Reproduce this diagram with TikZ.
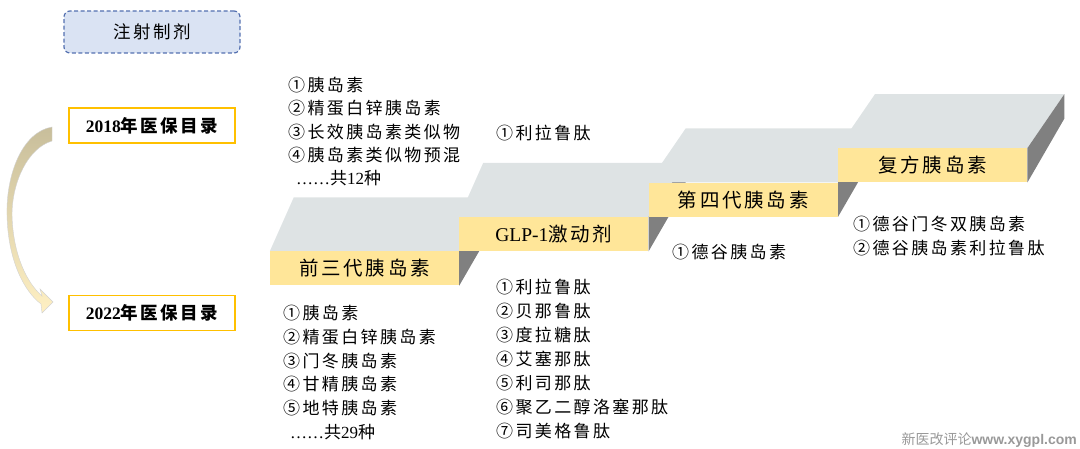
\documentclass[tikz,border=0pt]{standalone}
\usepackage{fontspec}
\setmainfont{Liberation Serif}
\newfontfamily\cjk[LetterSpace=14]{Noto Sans CJK SC}
\newfontfamily\cjkplain{Noto Sans CJK SC}
\newfontfamily\wmfont{Liberation Sans}
\usetikzlibrary{positioning,calc,backgrounds}
\definecolor{stepyellow}{RGB}{255,230,153}
\definecolor{stepgray}{RGB}{222,227,228}
\definecolor{stepdark}{RGB}{128,128,128}
\definecolor{titleblue}{RGB}{218,227,243}
\definecolor{titleedge}{RGB}{84,112,176}
\definecolor{yeargold}{RGB}{255,192,0}
\definecolor{arrtop}{RGB}{200,190,155}
\definecolor{arrmid}{RGB}{216,214,200}
\definecolor{arrbot}{RGB}{255,240,195}
\tikzset{
  stepbox/.style={fill=stepyellow, minimum width=189pt, minimum height=34pt, inner sep=0pt, font=\cjk\fontsize{19.5}{22}\selectfont},
  yearbox/.style={draw=yeargold, line width=1.2pt, fill=white, minimum width=166pt, minimum height=35pt, font=\cjk\bfseries\fontsize{17.5}{20}\selectfont},
  listtext/.style={align=left, inner sep=0pt, anchor=north west, font=\cjk\fontsize{17}{24}\selectfont},
  topface/.style={fill=stepgray},
  sideface/.style={fill=stepdark}
}
\begin{document}
\begin{tikzpicture}[x=1pt,y=-1pt]
\useasboundingbox (0,0) rectangle (1080,449);
\node[draw=titleedge, dash pattern=on 4pt off 2.5pt, line width=1.2pt, rounded corners=6pt, fill=titleblue,
  minimum width=176pt, minimum height=42pt, font=\cjk\fontsize{17.5}{20}\selectfont] (title) at (152,32) {注射制剂};
\node[yearbox] (y18) at (152,125.5) {{\rmfamily 2018}年医保目录};
\node[yearbox, below=151pt of y18] (y22) {{\rmfamily 2022}年医保目录};
\shade[top color=arrtop, middle color=arrmid, bottom color=arrbot, draw=gray!35, line width=0.4pt]
  (52,127) .. controls (22,132) and (6,175) .. (7,215) .. controls (8,262) and (25,292) .. (41,304)
  -- (42,313) -- (53,302) -- (40,289) -- (42,296)
  .. controls (27,283) and (13,255) .. (12,215) .. controls (12,182) and (28,148) .. (52,141) -- cycle;
\node[stepbox] (s1) at (364.5,268.5) {前三代胰岛素};
\node[stepbox, anchor=south west] (s2) at (s1.north east) {{\rmfamily GLP-1}激动剂};
\node[stepbox, anchor=south west] (s3) at (s2.north east) {第四代胰岛素};
\node[stepbox, anchor=south west] (s4) at (s3.north east) {复方胰岛素};
\begin{scope}[on background layer]
\foreach \s/\d in {s1/24,s2/24,s3/37,s4/37}{
  \fill[topface] (\s.north west) -- (\s.north east) -- ++(37,-54) -- ($(\s.north west)+(\d,-54)$) -- cycle;
  \fill[sideface] (\s.north east) -- (\s.south east) -- ++(37,-64) -- ($(\s.north east)+(37,-54)$) -- cycle;
}
\end{scope}
\node[listtext, font=\cjk\fontsize{17}{23.3}\selectfont] (l18a) at (288,77)
  {①胰岛素\\②精蛋白锌胰岛素\\③长效胰岛素类似物\\④胰岛素类似物预混\\\hspace{8pt}{\rmfamily ……}共{\rmfamily 12}种};
\node[listtext] (l18b) at (496,125) {①利拉鲁肽};
\node[listtext, font=\cjk\fontsize{17}{23.8}\selectfont] (l22a) at (283,305)
  {①胰岛素\\②精蛋白锌胰岛素\\③门冬胰岛素\\④甘精胰岛素\\⑤地特胰岛素\\\hspace{7pt}{\rmfamily ……}共{\rmfamily 29}种};
\node[listtext] (l22b) at (496,279)
  {①利拉鲁肽\\②贝那鲁肽\\③度拉糖肽\\④艾塞那肽\\⑤利司那肽\\⑥聚乙二醇洛塞那肽\\⑦司美格鲁肽};
\node[listtext] (l22c) at (672,244) {①德谷胰岛素};
\node[listtext] (l22d) at (853,216) {①德谷门冬双胰岛素\\②德谷胰岛素利拉鲁肽};
\node[anchor=east, inner sep=0pt, text=gray!80, font=\fontsize{14}{16}\selectfont] (wm) at (1077,440)
  {{\cjkplain 新医改评论}{\wmfont\bfseries www.xygpl.com}};
\end{tikzpicture}
\end{document}
